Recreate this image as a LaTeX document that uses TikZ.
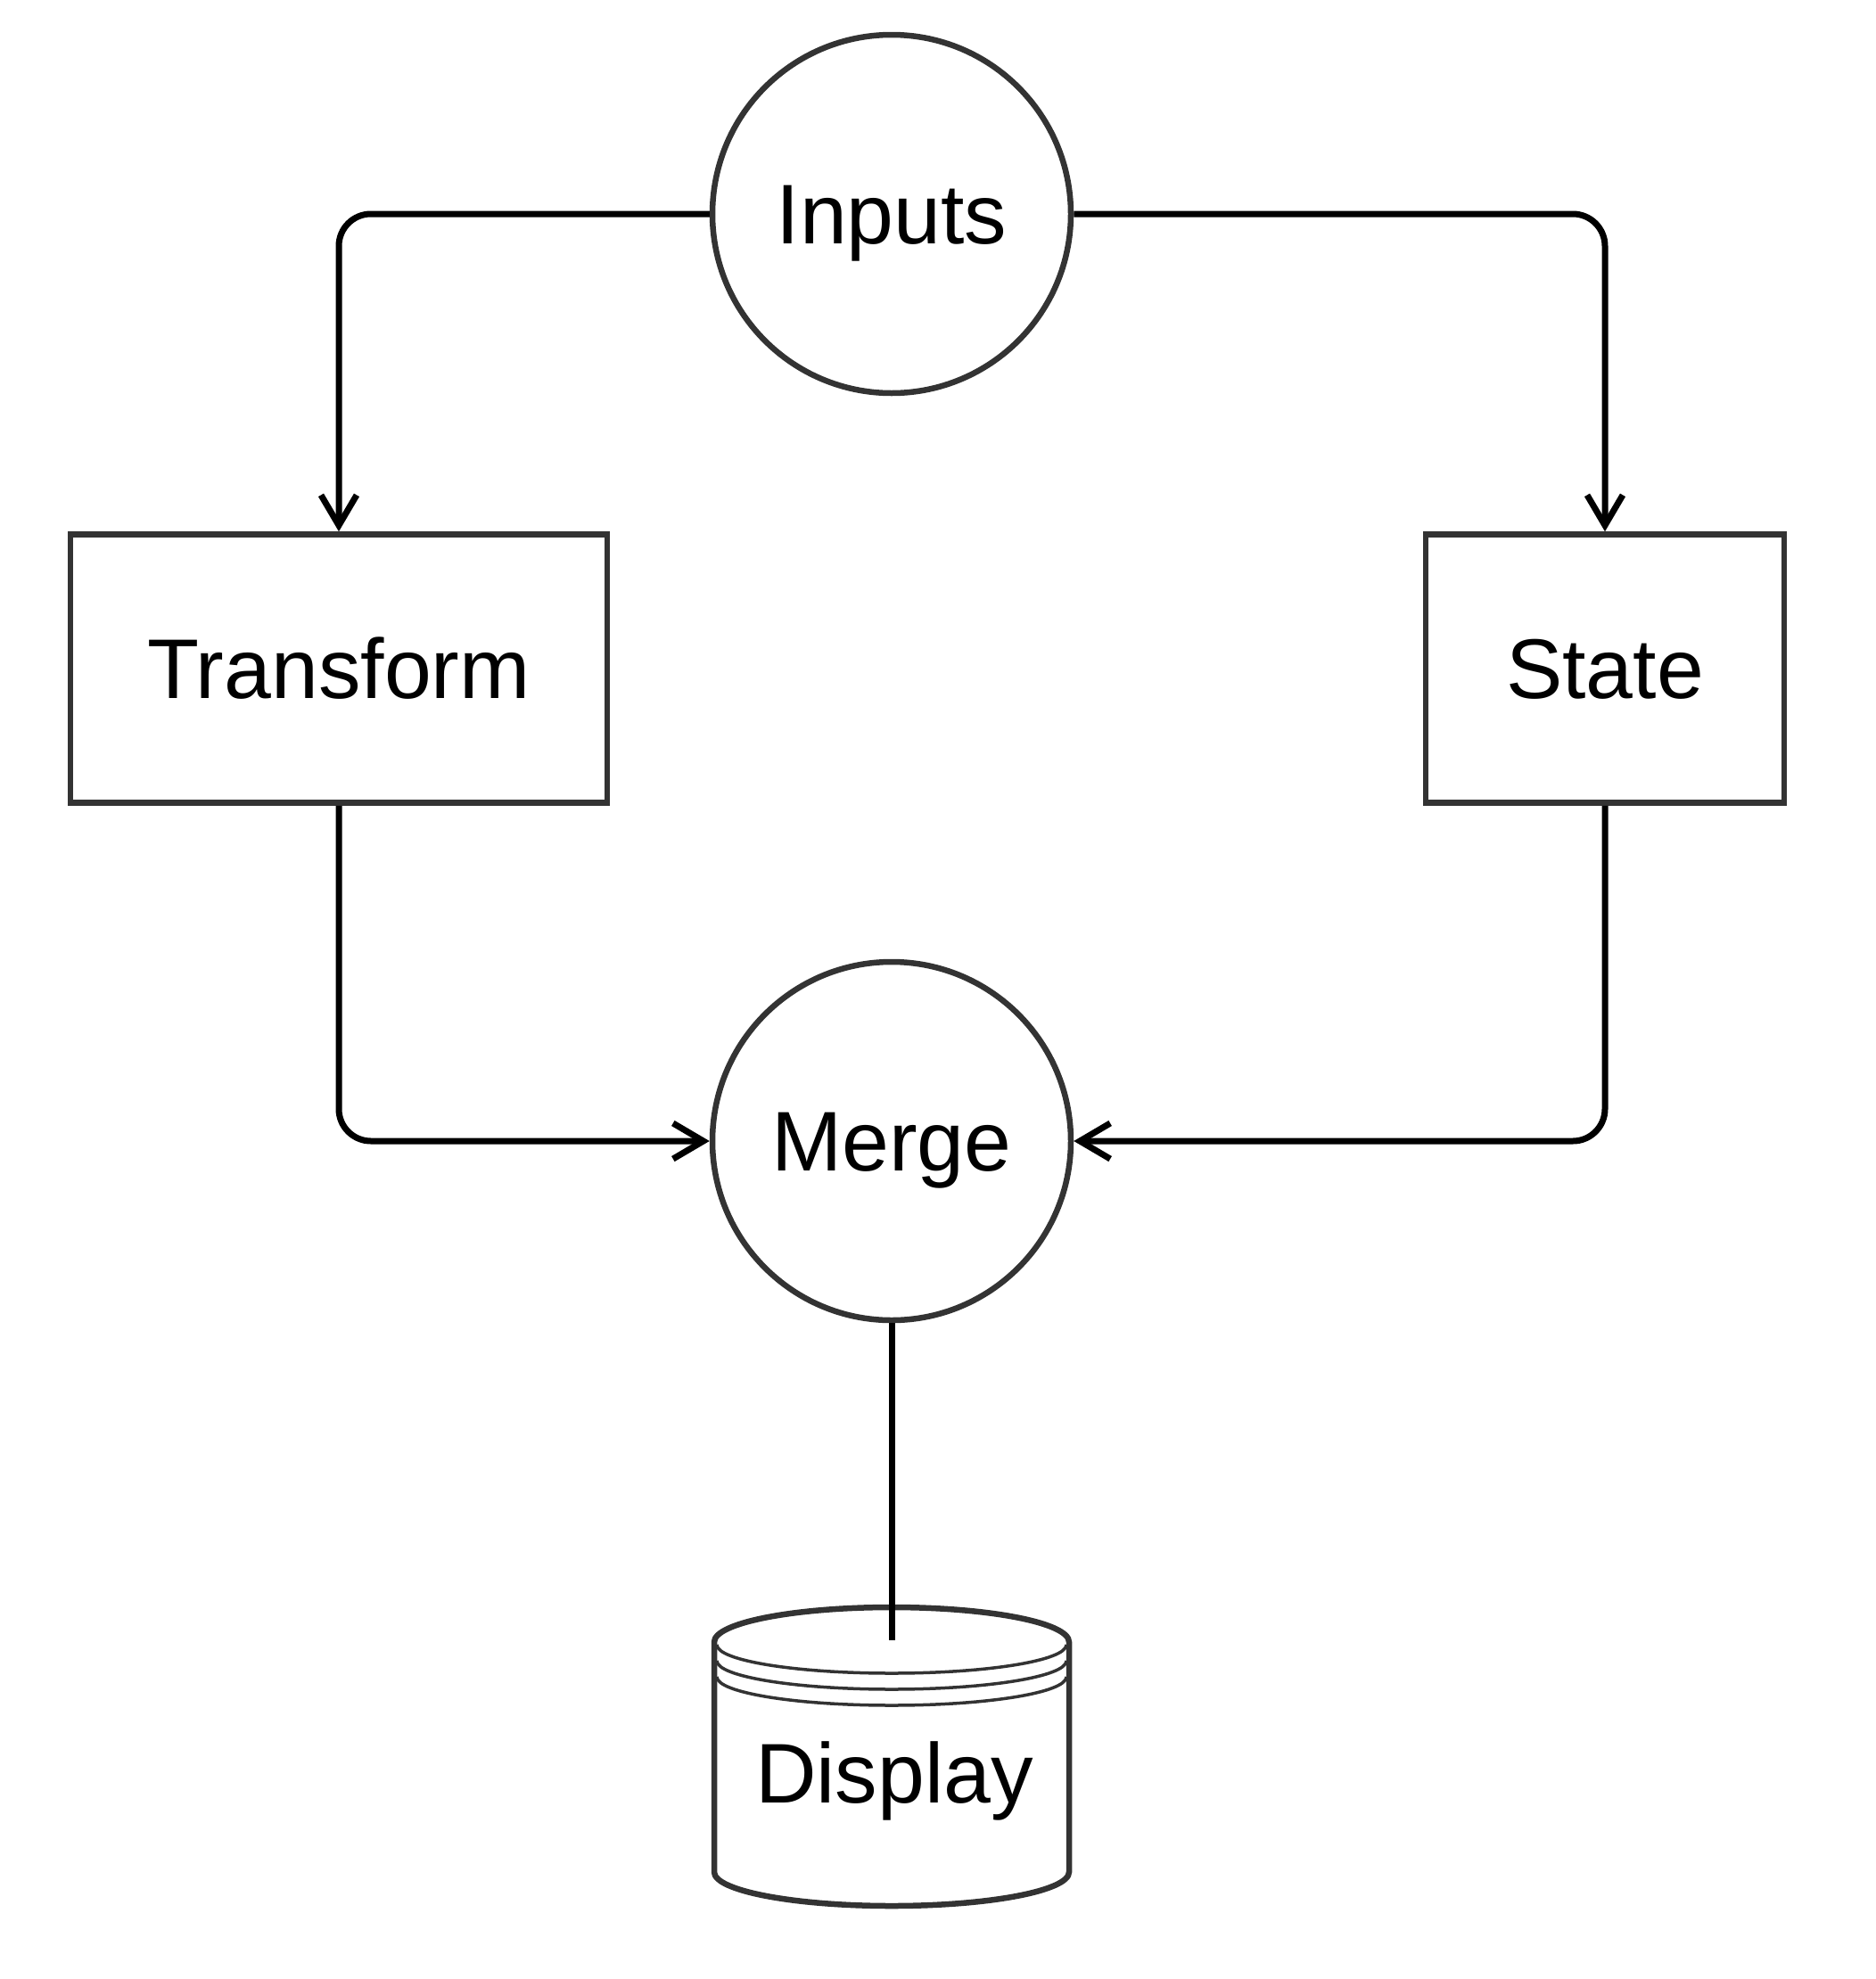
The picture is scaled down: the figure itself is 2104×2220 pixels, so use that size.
\documentclass[tikz,border=0pt]{standalone}
\usepackage{fontspec}
\setmainfont{Liberation Sans}
\usetikzlibrary{arrows.meta}
\definecolor{outl}{HTML}{333333}
\begin{document}
\begin{tikzpicture}[x=1pt,y=-1pt,
  lbl/.style={font=\fontsize{95pt}{114pt}\selectfont, text height=67pt, text depth=0pt, inner sep=0pt},
  circ/.style={circle, draw=outl, line width=6.5pt, minimum size=402pt, lbl},
  boxn/.style={rectangle, draw=outl, line width=6.5pt, minimum height=301pt, lbl},
  conn/.style={draw=black, line width=7pt, rounded corners=36pt},
  arr/.style={-{Straight Barb[sharp,length=34pt,width=40pt]}},
  cylout/.style={draw=outl, line width=6.5pt},
  cylin/.style={draw=outl, line width=3.5pt}
]
\useasboundingbox (0,0) rectangle (2104,2220);
\node[circ] (inputs) at (1000,240) {Inputs};
\node[boxn, minimum width=602pt] (transform) at (380,750) {Transform};
\node[boxn, minimum width=402pt] (state) at (1800,750) {State};
\node[circ] (merge) at (1000,1280) {Merge};
% cylinder (Display)
\draw[cylout] (801,2100) -- (801,1842) arc[start angle=180, end angle=0, x radius=199pt, y radius=39pt] -- (1199,2100) arc[start angle=0, end angle=-180, x radius=199pt, y radius=38pt] -- cycle;
\draw[cylin] (804,1845) arc[start angle=180, end angle=360, x radius=196pt, y radius=32pt];
\draw[cylin] (804,1863) arc[start angle=180, end angle=360, x radius=196pt, y radius=32pt];
\draw[cylin] (804,1881) arc[start angle=180, end angle=360, x radius=196pt, y radius=32pt];
\node[lbl] (display) at (1003,1989) {Display};
\coordinate (disptop) at (1000,1840);
% connectors
\draw[conn,arr] (inputs.west) -| (transform.north);
\draw[conn,arr] (inputs.east) -| (state.north);
\draw[conn,arr] (transform.south) |- (merge.west);
\draw[conn,arr] (state.south) |- (merge.east);
\draw[conn] (merge.south) -- (disptop);
\end{tikzpicture}
\end{document}
